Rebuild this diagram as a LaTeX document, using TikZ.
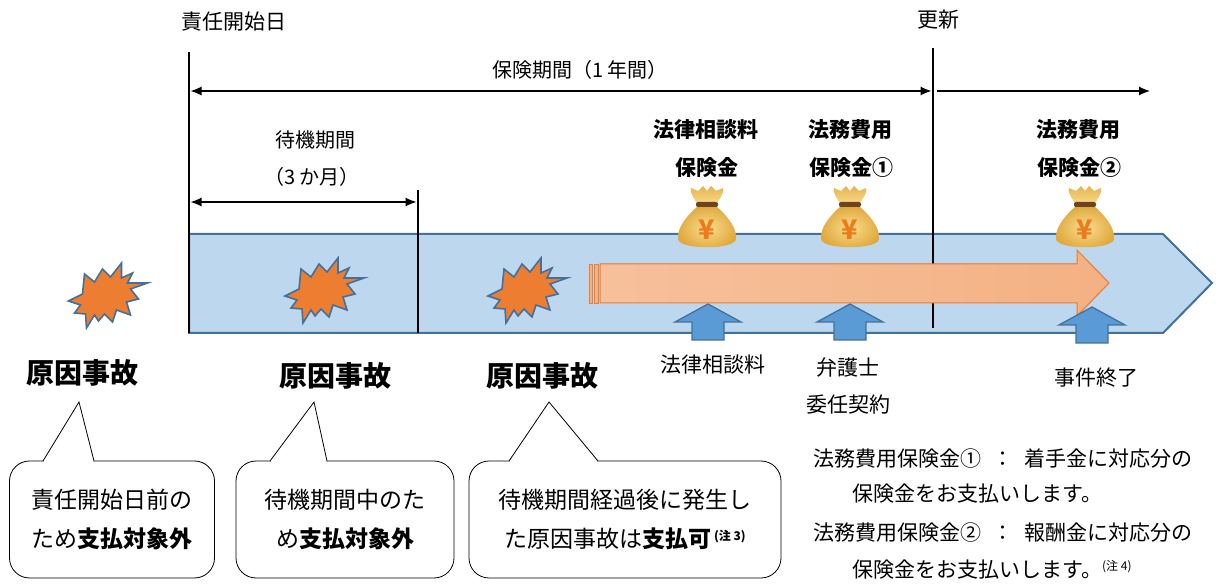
\documentclass[tikz,border=0pt]{standalone}
\usepackage{fontspec}
\setmainfont{Noto Sans CJK JP}
\usetikzlibrary{arrows.meta}
\definecolor{bandfill}{HTML}{BDD7EE}
\definecolor{bandline}{HTML}{41719C}
\definecolor{burstfill}{HTML}{ED7D31}
\definecolor{arrowfill}{HTML}{F4B183}
\definecolor{arrowline}{HTML}{ED7D31}
\definecolor{upfill}{HTML}{5B9BD5}
\definecolor{goldA}{HTML}{FADD8E}
\definecolor{goldB}{HTML}{E0A93E}
\definecolor{tiecol}{HTML}{6E4320}
\definecolor{yencol}{HTML}{EE7A1E}
\tikzset{
  lbl/.style={inner sep=0pt, font=\fontsize{21}{21}\selectfont},
  blbl/.style={inner sep=0pt, font=\bfseries\fontsize{21}{21}\selectfont},
  bigbold/.style={inner sep=0pt, font=\bfseries\fontsize{28}{28}\selectfont},
  vline/.style={line width=2.6pt, black},
  dimboth/.style={line width=1.2pt, {Latex[length=11pt,width=9pt]}-{Latex[length=11pt,width=9pt]}},
  dimright/.style={line width=1.2pt, -{Latex[length=11pt,width=9pt]}},
  callout/.style={draw=black, line width=0.8pt, fill=white, rounded corners=20pt,
     minimum width=205pt, minimum height=117pt, inner sep=0pt, align=center,
     font=\fontsize{23}{39}\selectfont},
  burst/.pic={
    \filldraw[fill=burstfill, draw=bandline, line width=1.6pt, line join=miter]
      (38,-13) -- (21,-7) -- (29,3) -- (17,6) -- (21,19) -- (7,14) -- (3,26) -- (-5,18)
      -- (-11,25) -- (-15,19) -- (-23,32) -- (-24,18) -- (-35,17) -- (-29,9) -- (-41,5)
      -- (-27,-2) -- (-25,-22) -- (-15,-14) -- (-7,-27) -- (1,-19) -- (12,-33) -- (12,-18)
      -- (23,-23) -- (18,-13) -- cycle;
  },
  moneybag/.pic={
    \shade[inner color=goldA, outer color=goldB]
      (-9,-14) .. controls (-18,-6) and (-30,6) .. (-29,19)
      .. controls (-28,30) and (28,30) .. (29,19)
      .. controls (30,6) and (18,-6) .. (9,-14) -- cycle;
    \shade[top color=goldB!80!goldA, bottom color=goldA]
      (-9,-15) .. controls (-13,-22) and (-18,-28) .. (-16,-32) -- (-9,-29) -- (-4,-34)
      -- (0,-29) -- (4,-34) -- (9,-29) -- (16,-32)
      .. controls (18,-28) and (13,-22) .. (9,-15) -- cycle;
    \fill[tiecol, rounded corners=2pt] (-11,-18) rectangle (11,-13);
    \node[text=yencol, inner sep=0pt, font=\bfseries\fontsize{27}{27}\selectfont] at (0,10) {¥};
  },
  uparrow/.pic={
    \filldraw[fill=upfill, draw=bandline, line width=1.3pt]
      (0,0) -- (33,18) -- (16,18) -- (16,36) -- (-16,36) -- (-16,18) -- (-33,18) -- cycle;
  }
}
\begin{document}
\begin{tikzpicture}[x=1pt, y=-1pt]
\useasboundingbox[fill=white] (0,0) rectangle (1216,585);

% band
\filldraw[fill=bandfill, draw=bandline, line width=2pt]
  (189,234) -- (1163,234) -- (1212,283) -- (1163,333) -- (189,333) -- cycle;

% timeline coordinates
\coordinate (s0) at (189,52);  \coordinate (s1) at (189,333);
\coordinate (w0) at (418,190); \coordinate (w1) at (418,333);
\coordinate (r0) at (933,48);  \coordinate (r1) at (933,328);
\draw[vline] (s0) -- (s1);
\draw[vline] (w0) -- (w1);
\draw[vline] (r0) -- (r1);

% top labels
\node[lbl, anchor=west] (start) at (181,22) {責任開始日};
\node[lbl, anchor=west] (renew) at (917,20) {更新};
\node[lbl, font=\fontsize{20}{20}\selectfont] (period) at (580,70) {保険期間（1 年間）};
\coordinate (pa) at (190.5,91); \coordinate (pb) at (931.5,91);
\draw[dimboth] (pa) -- (pb);
\coordinate (qa) at (937,91); \coordinate (qb) at (1150,91);
\draw[dimright] (qa) -- (qb);
\node[lbl, font=\fontsize{20}{20}\selectfont] (wait) at (315,140) {待機期間};
\node[lbl, font=\fontsize{20}{20}\selectfont] (wait2) at (312,177) {（3 か月）};
\coordinate (wa) at (190.5,202); \coordinate (wb) at (416.5,202);
\draw[dimboth] (wa) -- (wb);

% bursts
\pic at (109.5,296) {burst};
\pic at (326,291) {burst};
\pic at (529,291) {burst};

% orange arrow
\coordinate (oa) at (600,283); \coordinate (ob) at (1109,283);
\filldraw[left color=arrowfill!80!white, right color=arrowfill, draw=arrowline, line width=1pt]
  (600,264) -- (1077,264) -- (1077,250) -- (ob) -- (1077,316) -- (1077,303) -- (600,303) -- cycle;
\filldraw[fill=arrowfill, draw=arrowline, line width=0.8pt] (589,264) rectangle (592,303);
\filldraw[fill=arrowfill, draw=arrowline, line width=0.8pt] (594,264) rectangle (598,303);

% money bags
\pic at (707,220) {moneybag};
\pic at (850,220) {moneybag};
\pic at (1085,220) {moneybag};
\node[blbl] (b1a) at (706,130) {法律相談料};
\node[blbl] (b1b) at (707,168) {保険金};
\node[blbl] (b2a) at (850,130) {法務費用};
\node[blbl] (b2b) at (851,168) {保険金①};
\node[blbl] (b3a) at (1078,130) {法務費用};
\node[blbl] (b3b) at (1079,168) {保険金②};

% up arrows
\pic at (708,304) {uparrow};
\pic at (850,304) {uparrow};
\pic at (1092,307) {uparrow};
\node[lbl] (u1) at (713,365) {法律相談料};
\node[lbl] (u2) at (848,367) {弁護士};
\node[lbl] (u2b) at (848,405) {委任契約};
\node[lbl] (u3) at (1096,378) {事件終了};

% cause labels
\node[bigbold] (k1) at (83,373) {原因事故};
\node[bigbold] (k2) at (335,376) {原因事故};
\node[bigbold] (k3) at (542,376) {原因事故};

% callouts
\node[callout] (c1) at (112,519.5) {責任開始日前の\\ため\textbf{支払対象外}};
\node[callout, minimum width=218pt] (c2) at (345,519.5) {待機期間中のた\\め\textbf{支払対象外}};
\node[callout, minimum width=312pt] (c3) at (625,519.5) {待機期間経過後に発生し\\た原因事故は\textbf{支払可}\raisebox{7pt}{\fontsize{12}{12}\selectfont\bfseries\ (注 3)}};

\coordinate (p1) at (79,402);  \coordinate (p1a) at (43,461);  \coordinate (p1b) at (94,461);
\coordinate (p2) at (314,402); \coordinate (p2a) at (270,461); \coordinate (p2b) at (327,461);
\coordinate (p3) at (549,402); \coordinate (p3a) at (509,461); \coordinate (p3b) at (598,461);
\foreach \i in {1,2,3}{
  \fill[white] (p\i a) -- (p\i) -- (p\i b) -- cycle;
  \fill[white] ([xshift=0.6pt,yshift=-1.5pt]p\i a) rectangle ([xshift=-0.6pt,yshift=1.5pt]p\i b);
  \draw[line width=0.8pt] (p\i a) -- (p\i) -- (p\i b);
}

% notes
\node[lbl, anchor=west] (n1) at (813,459) {法務費用保険金①\hspace{11pt}：\hspace{11pt}着手金に対応分の};
\node[lbl, anchor=west] (n2) at (852,494) {保険金をお支払いします。};
\node[lbl, anchor=west] (n3) at (813,533) {法務費用保険金②\hspace{11pt}：\hspace{11pt}報酬金に対応分の};
\node[lbl, anchor=west] (n4) at (852,570) {保険金をお支払いします。\raisebox{7pt}{\fontsize{12}{12}\selectfont (注 4)}};
\end{tikzpicture}
\end{document}
